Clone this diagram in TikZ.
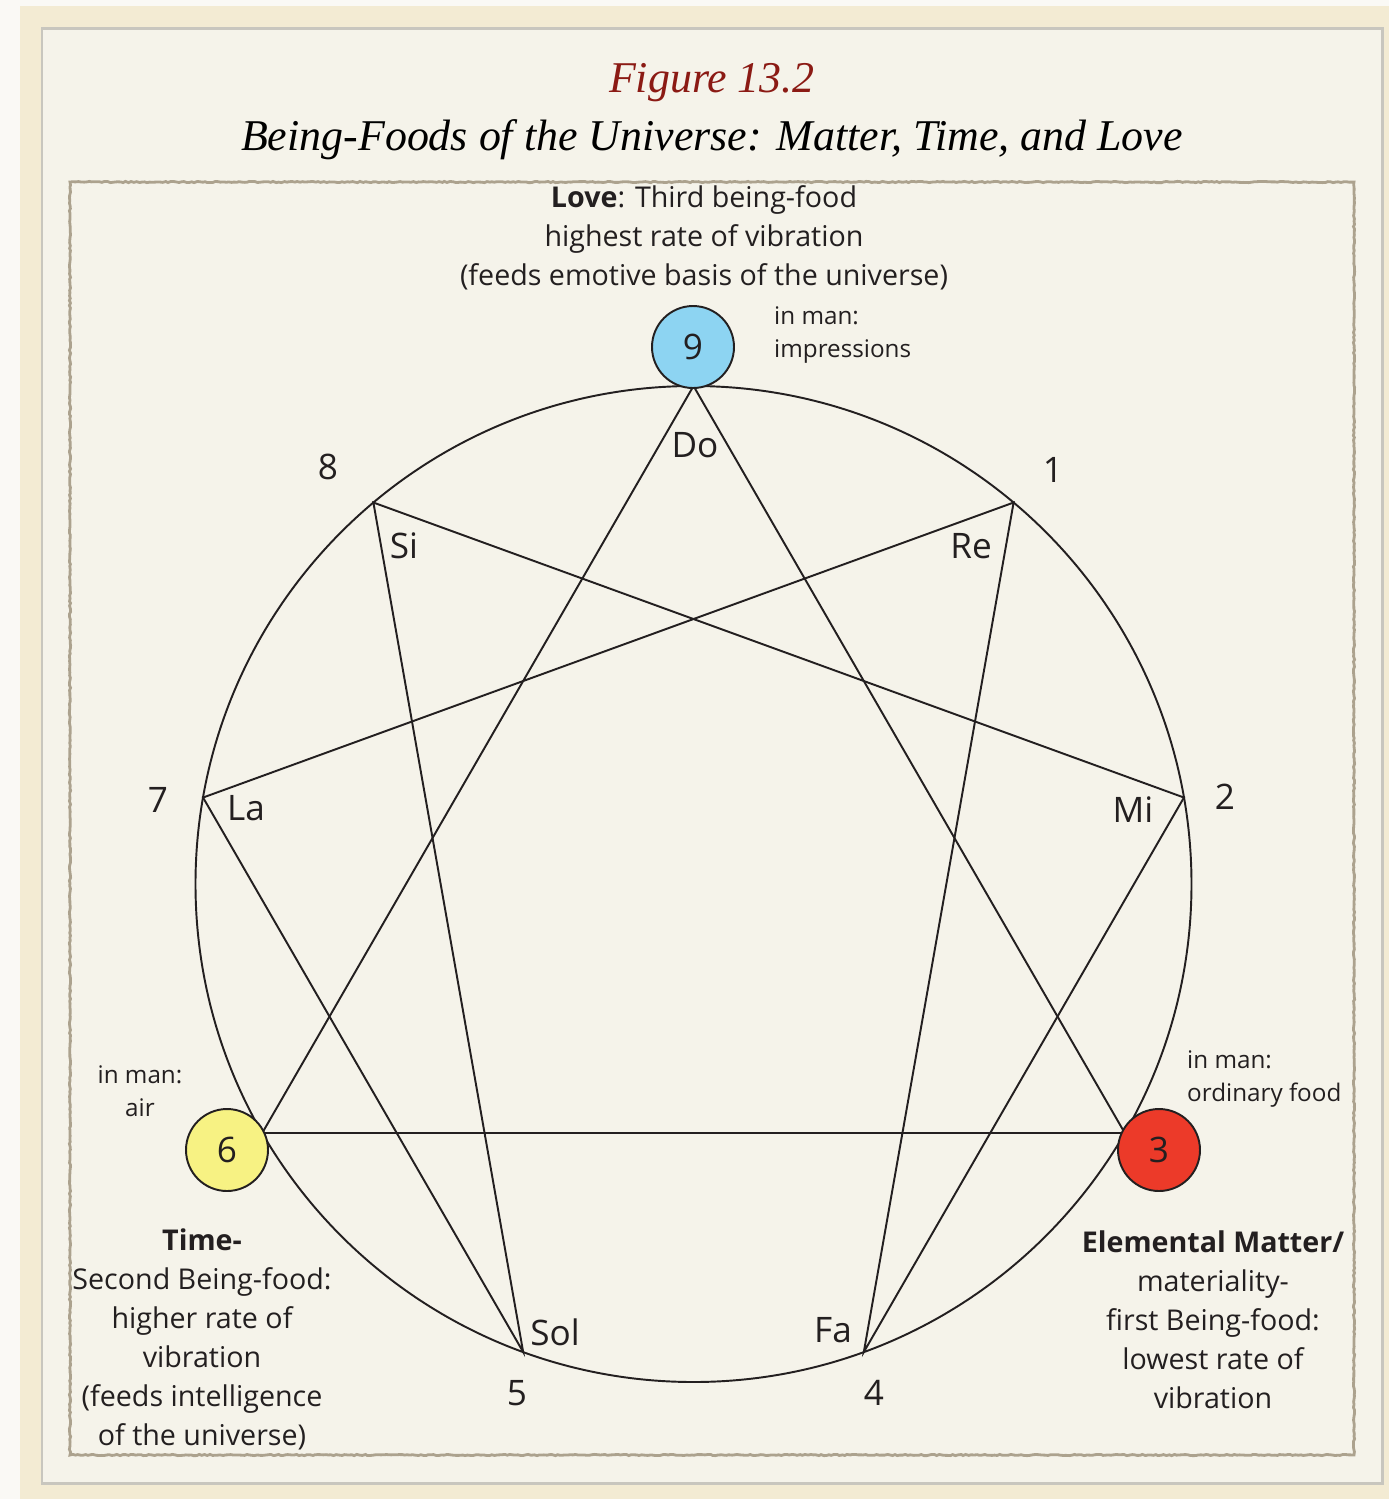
\documentclass[tikz,border=0pt]{standalone}
\usepackage{fontspec}
\setsansfont{Open Sans}
\newfontfamily\titlefont{Liberation Serif}
\usetikzlibrary{positioning, calc, decorations.pathmorphing}
\definecolor{pagewhite}{RGB}{250,249,245}
\definecolor{creamband}{RGB}{243,235,211}
\definecolor{paper}{RGB}{245,243,234}
\definecolor{greyedge}{RGB}{200,198,190}
\definecolor{frametan}{RGB}{172,162,142}
\definecolor{figred}{RGB}{139,26,20}
\definecolor{loveblue}{RGB}{141,212,242}
\definecolor{timeyellow}{RGB}{247,242,131}
\definecolor{matterred}{RGB}{236,58,41}
\definecolor{inkgrey}{RGB}{35,31,32}

\begin{document}
\begin{tikzpicture}[x=0.02cm, y=-0.02cm,
    numlbl/.style={font=\sffamily\fontsize{20}{24}\selectfont, text=inkgrey},
    tonelbl/.style={font=\sffamily\fontsize{20}{24}\selectfont, text=inkgrey},
    foodtxt/.style={font=\sffamily\fontsize{16.3}{22.2}\selectfont, text=inkgrey, align=center},
    inman/.style={font=\sffamily\fontsize{13.8}{18.8}\selectfont, text=inkgrey},
    foodcirc/.style={draw=inkgrey, line width=1.1pt, circle, minimum size=1.64cm, inner sep=0pt,
                     font=\sffamily\fontsize{20}{24}\selectfont, text=inkgrey},
    chord/.style={draw=inkgrey, line width=1.1pt}]
\useasboundingbox (0,0) rectangle (1389,1499);

% paper and frames
\fill[pagewhite] (0,0) rectangle (1389,1499);
\fill[creamband] (20,6) rectangle (1389,1499);
\draw[greyedge, line width=1.7pt, fill=paper] (42,28) rectangle (1382,1483);
\draw[frametan, line width=1.6pt, decorate,
      decoration={random steps, segment length=1.5pt, amplitude=0.35pt}] (70,182) rectangle (1354,1455);

% titles
\node[font=\titlefont\itshape\fontsize{25}{30}\selectfont, text=figred] (fignum) at (712,83) {Figure 13.2};
\node[font=\titlefont\itshape\fontsize{25}{30}\selectfont] (figtitle) at (712,140)
     {Being-Foods of the Universe: Matter, Time, and Love};

% enneagram circle and its nine points
\coordinate (c) at (693.5,884);
\draw[chord] (c) circle (498);
\foreach \k in {1,...,9}
  \coordinate (p\k) at ($(c)+(40*\k-90:498)$);

% triangle and hexad
\draw[chord] (p9) -- (p3) -- (p6) -- cycle;
\draw[chord] (p1) -- (p4) -- (p2) -- (p8) -- (p5) -- (p7) -- cycle;

% the three being-foods
\node[foodcirc, fill=loveblue]   (n9) at (693,347)  {9};
\node[foodcirc, fill=matterred]  (n3) at (1159,1150) {3};
\node[foodcirc, fill=timeyellow] (n6) at (227,1150)  {6};

% point numbers
\node[numlbl] (num1) at (1053,470)  {1};
\node[numlbl] (num2) at (1225,797)  {2};
\node[numlbl] (num4) at (874,1393)  {4};
\node[numlbl] (num5) at (517,1393)  {5};
\node[numlbl] (num7) at (158,800)   {7};
\node[numlbl] (num8) at (328,467)   {8};

% notes
\node[tonelbl] (do)  at (695,445)  {Do};
\node[tonelbl] (re)  at (971,546)  {Re};
\node[tonelbl] (mi)  at (1133,810) {Mi};
\node[tonelbl] (fa)  at (833,1330) {Fa};
\node[tonelbl] (sol) at (555,1332) {Sol};
\node[tonelbl] (la)  at (246,808)  {La};
\node[tonelbl] (si)  at (404,546)  {Si};

% food descriptions
\node[foodtxt] (love) at (704,238)
  {\textbf{Love}: Third being-food\\ highest rate of vibration\\ (feeds emotive basis of the universe)};
\node[foodtxt] (time) at (202,1339)
  {\textbf{Time-}\\ Second Being-food:\\ higher rate of\\ vibration\\ (feeds intelligence\\ of the universe)};
\node[foodtxt] (matter) at (1213,1320)
  {\textbf{Elemental Matter/}\\ materiality-\\ first Being-food:\\ lowest rate of\\ vibration};

% in man
\node[inman, align=left, anchor=west] (man9) at (768,335) {in man:\\ impressions};
\node[inman, align=left, anchor=west] (man3) at (1181,1079) {in man:\\ ordinary food};
\node[inman, align=center] (man6) at (140,1091) {in man:\\ air};
\end{tikzpicture}
\end{document}
